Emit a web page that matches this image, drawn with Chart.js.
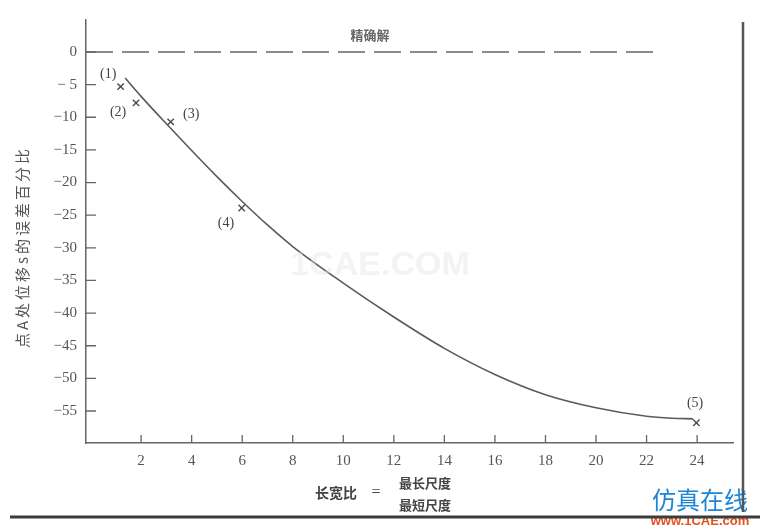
<!DOCTYPE html>
<html>
<head>
<meta charset="utf-8">
<title>长宽比与误差</title>
<script src="https://cdn.jsdelivr.net/npm/chart.js@4/dist/chart.umd.min.js"></script>
<style>
	body { margin: 0; background: #fff; }
	#wrap { width: 760px; height: 529px; position: relative; }
</style>
</head>
<body>
<div id="wrap"><canvas id="chart"></canvas></div>
<script>
'use strict';

// fitted curve
const curveX = [1.37, 2, 3, 4, 5, 6, 7, 8, 10, 12, 14, 16, 18, 20, 22, 23, 23.84];
const curveY = [-4.0, -6.8, -11.0, -15.1, -19.1, -22.9, -26.5, -29.8, -35.4, -40.6, -45.4, -49.4, -52.5, -54.5, -55.8, -56.1, -56.2];

// measured cases (1)..(5)
const caseNames = ['(1)', '(2)', '(3)', '(4)', '(5)'];
const caseX = [1.19, 1.80, 3.17, 5.98, 23.97];
const caseY = [-5.3, -7.8, -10.7, -23.9, -56.8];
const caseLabelX = [0.70, 1.09, 3.98, 5.36, 23.92];
const caseLabelY = [-3.4, -9.3, -9.6, -26.2, -53.8];

// exact solution line
const exactX = [-0.18, 22.6];
const exactY = [0, 0];
const exactName = '精确解';
const exactLabelX = 11.06;
const exactLabelY = 2.6;

const xTicks = [2, 4, 6, 8, 10, 12, 14, 16, 18, 20, 22, 24];
const yTicks = [0, -5, -10, -15, -20, -25, -30, -35, -40, -45, -50, -55];

const yTitle = '点A处位移s的误差百分比';
const xTitle = '长宽比';
const xTitleTop = '最长尺度';
const xTitleBottom = '最短尺度';

const ink = '#555';
const serif = '"Liberation Serif", "DejaVu Serif", serif';
const cjk = '"Noto Sans CJK SC", sans-serif';

const toPoints = (xs, ys) => xs.map((x, i) => ({x: x, y: ys[i]}));

const paperPlugin = {
	id: 'paper',
	afterDraw(chart) {
		const ctx = chart.ctx;
		const area = chart.chartArea;
		const xs = chart.scales.x;
		const ys = chart.scales.y;

		ctx.save();
		ctx.strokeStyle = '#666';
		ctx.lineWidth = 1.3;

		// tick marks pointing into the plot
		ctx.beginPath();
		xTicks.forEach((v) => {
			const px = xs.getPixelForValue(v);
			ctx.moveTo(px, area.bottom);
			ctx.lineTo(px, area.bottom - 8);
		});
		yTicks.forEach((v) => {
			const py = ys.getPixelForValue(v);
			ctx.moveTo(area.left, py);
			ctx.lineTo(area.left + 10, py);
		});
		ctx.stroke();

		// case labels and the exact solution label
		ctx.fillStyle = '#444';
		ctx.font = '14px ' + serif;
		ctx.textAlign = 'center';
		ctx.textBaseline = 'middle';
		caseNames.forEach((name, i) => {
			ctx.fillText(name, xs.getPixelForValue(caseLabelX[i]), ys.getPixelForValue(caseLabelY[i]));
		});
		ctx.font = 'bold 13px ' + cjk;
		ctx.fillStyle = '#666';
		ctx.fillText(exactName, xs.getPixelForValue(exactLabelX), ys.getPixelForValue(exactLabelY));

		// y axis title, spaced out like the print
		ctx.save();
		ctx.translate(22, 249);
		ctx.rotate(-Math.PI / 2);
		ctx.font = '15px ' + cjk;
		ctx.fillStyle = '#555';
		ctx.letterSpacing = '3px';
		ctx.fillText(yTitle, 2, 0);
		ctx.restore();

		// x axis title written as a fraction
		ctx.fillStyle = '#444';
		ctx.font = 'bold 14px ' + cjk;
		ctx.fillText(xTitle, 336, 493);
		ctx.font = '16px ' + serif;
		ctx.fillText('=', 376, 493);
		ctx.font = 'bold 13px ' + cjk;
		ctx.fillText(xTitleTop, 425, 483);
		ctx.fillText(xTitleBottom, 425, 505);

		// faint site marks
		ctx.font = 'bold 34px "Liberation Sans", sans-serif';
		ctx.fillStyle = 'rgba(225,225,225,0.4)';
		ctx.fillText('1CAE.COM', 380, 266);
		ctx.font = '24px ' + cjk;
		ctx.fillStyle = '#1b86d8';
		ctx.fillText('仿真在线', 700, 500);
		ctx.font = 'bold 13px "Liberation Sans", sans-serif';
		ctx.fillStyle = '#e2531f';
		ctx.fillText('www.1CAE.com', 700, 521);

		// edges of the scanned page
		ctx.strokeStyle = '#555';
		ctx.lineWidth = 2.5;
		ctx.beginPath();
		ctx.moveTo(743, 22);
		ctx.lineTo(743, 512);
		ctx.stroke();
		ctx.strokeStyle = '#3c3c3c';
		ctx.lineWidth = 3;
		ctx.beginPath();
		ctx.moveTo(10, 517);
		ctx.lineTo(760, 517);
		ctx.stroke();
		ctx.restore();
	}
};

const formatY = function(v) {
	if (v === 0) {
		return '0';
	}
	const a = Math.abs(v);
	return '−' + (a < 10 ? ' ' : '') + a;
};

window.onload = function() {
	const canvas = document.getElementById('chart');

	new Chart(canvas, {
		type: 'scatter',
		data: {
			datasets: [
				{
					data: toPoints(exactX, exactY),
					showLine: true,
					borderColor: '#666',
					borderWidth: 1.5,
					borderDash: [27, 9],
					pointRadius: 0
				},
				{
					data: toPoints(curveX, curveY),
					showLine: true,
					cubicInterpolationMode: 'monotone',
					borderColor: '#5a5a5a',
					borderWidth: 1.6,
					pointRadius: 0
				},
				{
					data: toPoints(caseX, caseY),
					showLine: false,
					pointStyle: 'crossRot',
					pointRadius: 4.5,
					borderColor: '#4a4a4a',
					borderWidth: 1.4
				}
			]
		},
		options: {
			responsive: true,
			maintainAspectRatio: false,
			animation: false,
			layout: {
				padding: {top: 20, right: 27, left: 0, bottom: 0}
			},
			plugins: {
				legend: {display: false},
				tooltip: {enabled: false}
			},
			scales: {
				x: {
					type: 'linear',
					min: -0.18,
					max: 25.42,
					afterBuildTicks: (scale) => {
						scale.ticks = xTicks.map((v) => ({value: v}));
					},
					afterFit: (scale) => {
						scale.height = 86;
					},
					grid: {display: false, drawTicks: false},
					border: {display: true, color: '#666', width: 1.5},
					ticks: {
						padding: 9,
						color: ink,
						font: {family: serif, size: 15}
					}
				},
				y: {
					type: 'linear',
					min: -59.9,
					max: 4.9,
					afterBuildTicks: (scale) => {
						scale.ticks = yTicks.map((v) => ({value: v}));
					},
					afterFit: (scale) => {
						scale.width = 86;
					},
					grid: {display: false, drawTicks: false},
					border: {display: true, color: '#666', width: 1.5},
					ticks: {
						padding: 9,
						color: ink,
						font: {family: serif, size: 15},
						callback: formatY
					}
				}
			}
		},
		plugins: [paperPlugin]
	});
};
</script>
</body>
</html>
